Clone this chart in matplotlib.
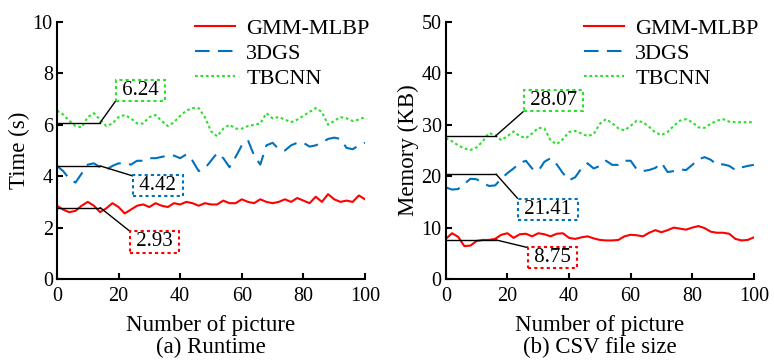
import numpy as np
import matplotlib.pyplot as plt

plt.rcParams['font.family'] = ['Liberation Serif', 'DejaVu Serif']
plt.rcParams['mathtext.fontset'] = 'stix'

# data ##########################################################
x = np.arange(0, 101, 2)

time_gmm = [2.85, 2.7, 2.6, 2.65, 2.85, 3.0, 2.85, 2.6, 2.75, 2.95, 2.8, 2.55, 2.7, 2.85, 2.9, 2.8, 2.95,
            2.85, 2.8, 2.95, 2.9, 3.0, 2.95, 2.85, 2.95, 2.9, 2.9, 3.05, 2.95, 2.95, 3.1, 3.0, 2.95, 3.1,
            3.0, 2.95, 3.0, 3.1, 3.0, 3.15, 3.05, 2.95, 3.2, 3.0, 3.3, 3.1, 3.0, 3.05, 3.0, 3.25, 3.1]
time_3dgs = [4.4, 4.2, 3.9, 3.75, 4.1, 4.45, 4.5, 4.35, 4.25, 4.4, 4.5, 4.5, 4.45, 4.6, 4.6, 4.7, 4.7,
             4.75, 4.8, 4.8, 4.7, 4.85, 4.6, 4.2, 4.3, 4.6, 4.9, 4.7, 4.35, 4.75, 5.2, 5.4, 4.8, 4.45,
             5.2, 5.3, 5.05, 5.0, 5.2, 5.3, 5.3, 5.15, 5.2, 5.3, 5.45, 5.5, 5.45, 5.1, 5.05, 5.2, 5.3]
time_tbcnn = [6.55, 6.4, 6.15, 5.95, 5.9, 6.3, 6.45, 6.2, 5.95, 6.05, 6.3, 6.38, 6.25, 6.05, 6.05, 6.3,
              6.38, 6.15, 5.95, 6.1, 6.35, 6.55, 6.65, 6.65, 6.3, 5.75, 5.55, 5.85, 6.0, 5.85, 5.85,
              5.95, 6.0, 6.05, 6.45, 6.25, 6.3, 6.2, 6.1, 6.2, 6.35, 6.5, 6.65, 6.5, 6.0, 6.15, 6.3,
              6.25, 6.15, 6.2, 6.3]

mem_gmm = [7.8, 8.9, 8.2, 6.4, 6.5, 7.4, 7.6, 7.6, 7.8, 8.6, 8.9, 8.0, 8.7, 8.8, 8.3, 8.9, 8.7, 8.3,
           8.8, 8.9, 8.0, 7.8, 8.1, 8.3, 7.9, 7.6, 7.5, 7.5, 7.6, 8.3, 8.6, 8.5, 8.3, 9.0, 9.5, 9.1,
           9.5, 10.0, 9.8, 9.6, 10.0, 10.3, 9.9, 9.2, 9.0, 9.0, 8.8, 7.8, 7.5, 7.6, 8.1]
mem_3dgs = [17.8, 17.4, 17.5, 18.5, 19.5, 19.4, 18.7, 18.1, 18.2, 19.5, 20.6, 21.5, 22.6, 23.0, 21.5,
            21.0, 22.8, 23.5, 22.3, 20.6, 19.2, 19.8, 21.5, 22.5, 21.5, 22.0, 23.0, 22.2, 22.2, 23.0,
            23.0, 21.3, 21.0, 21.2, 21.6, 22.6, 20.8, 21.0, 21.3, 21.2, 22.2, 23.3, 23.7, 23.2, 22.2,
            22.3, 22.0, 21.2, 21.7, 22.0, 22.2]
mem_tbcnn = [27.4, 26.8, 26.0, 25.4, 25.1, 25.6, 26.8, 28.4, 28.0, 27.0, 27.8, 28.7, 27.8, 27.4, 28.3,
             29.4, 29.3, 27.0, 26.2, 27.2, 28.6, 28.8, 28.3, 27.8, 28.2, 30.2, 31.1, 30.3, 29.3, 28.9,
             29.8, 30.8, 30.5, 29.6, 28.5, 28.0, 28.6, 29.8, 30.8, 31.1, 30.5, 29.5, 29.4, 30.2, 30.8,
             31.1, 30.6, 30.5, 30.5, 30.5, 30.5]

labels = ['GMM-MLBP', '3DGS', 'TBCNN']
colors = ['#ff0000', '#0072bd', '#2ede2e']
time_notes = ['2.93', '4.42', '6.24']
mem_notes = ['8.75', '21.41', '28.07']

# figure ########################################################
fig = plt.figure(figsize=(7.74, 3.6), dpi=100)
ax1 = fig.add_axes([0.0736, 0.225, 0.398, 0.714])
ax2 = fig.add_axes([0.576, 0.225, 0.398, 0.714])


def draw(ax, series, notes, ymax, ylabel, xlabel, hy, end, boxes, relpos):
    ax.plot(x, series[0], '-', color=colors[0], lw=1.5, label=labels[0])
    ax.plot(x, series[1], color=colors[1], lw=1.5, dashes=(7, 4), label=labels[1])
    ax.plot(x, series[2], color=colors[2], lw=1.5, dashes=(1.3, 1.3), label=labels[2])

    for i in range(3):
        ax.plot([0, end], [hy[i], hy[i]], 'k-', lw=1)
        ax.annotate(' ' + notes[i] + ' ', xy=(end, hy[i]), xytext=boxes[i],
                    ha='center', va='center', fontsize=15,
                    bbox=dict(boxstyle='square,pad=0.05', fc='white', ec=colors[i], ls=(0, (1.5, 1.5)), lw=1.5),
                    arrowprops=dict(arrowstyle='-', color='k', lw=1, shrinkA=0, shrinkB=0, relpos=relpos[i]))

    ax.set_xlim(0, 100)
    ax.set_ylim(0, ymax)
    ax.set_xticks(np.arange(0, 101, 20))
    ax.set_yticks(np.linspace(0, ymax, 6))
    ax.spines['top'].set_visible(False)
    ax.spines['right'].set_visible(False)
    ax.spines['left'].set_linewidth(1.5)
    ax.spines['bottom'].set_linewidth(1.5)
    ax.tick_params(direction='in', length=4, width=1.5, labelsize=14.5)
    ax.tick_params(axis='x', pad=6)
    ax.tick_params(axis='y', pad=3)
    ax.set_xlabel(xlabel, fontsize=16.5, linespacing=1.1, labelpad=6)
    ax.set_ylabel(ylabel, fontsize=16.5, labelpad=2)
    ax.legend(loc='upper right', bbox_to_anchor=(1.066, 1.075), frameon=False, fontsize=16,
              handlelength=1.8, handletextpad=0.5, labelspacing=0.2, borderpad=0.2)


draw(ax1, [time_gmm, time_3dgs, time_tbcnn], time_notes, 10, 'Time (s)', 'Number of picture\n(a) Runtime',
     [2.78, 4.4, 6.08], 14, [(31.8, 1.44), (32.8, 3.62), (27.0, 7.35)], [(0, 1), (0, 1), (0, 0)])
draw(ax2, [mem_gmm, mem_3dgs, mem_tbcnn], mem_notes, 50, 'Memory (KB)', 'Number of picture\n(b) CSV file size',
     [7.6, 20.4, 27.9], 16.3, [(34.7, 4.2), (33.1, 13.5), (35.0, 34.7)], [(0, 1), (0, 1), (0, 0)])

fig.savefig('out.png', dpi=100)
